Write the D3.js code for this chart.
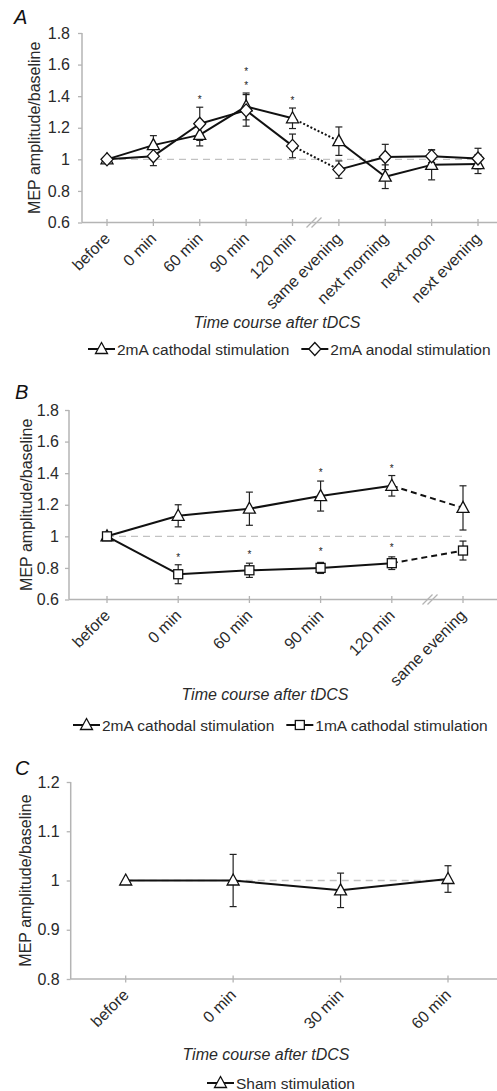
<!DOCTYPE html>
<html>
<head>
<meta charset="utf-8">
<script src="https://cdn.jsdelivr.net/npm/d3@7"></script>
<style>
  body { margin: 0; background: #fff; }
  svg { display: block; font-family: "Liberation Sans", Arial, sans-serif; }
</style>
</head>
<body>
<svg id="chart" width="497" height="1091"></svg>
<script>
// ==============================
// DATA
// ==============================
const catsA = ["before", "0 min", "60 min", "90 min", "120 min", "same evening", "next morning", "next noon", "next evening"];
const cathodalA = [1.0, 1.09, 1.155, 1.335, 1.26, 1.115, 0.89, 0.965, 0.97];
const cathodalAErr = [0, 0.06, 0.07, 0.085, 0.065, 0.09, 0.075, 0.095, 0.06];
const anodalA = [1.0, 1.02, 1.225, 1.31, 1.085, 0.935, 1.015, 1.02, 1.005];
const anodalAErr = [0, 0.06, 0.105, 0.1, 0.075, 0.055, 0.08, 0.04, 0.065];
const starCatsA = ["60 min", "90 min", "90 min", "120 min"];
const starValsA = [1.38, 1.47, 1.56, 1.375];

const catsB = ["before", "0 min", "60 min", "90 min", "120 min", "same evening"];
const cathodal2B = [1.0, 1.13, 1.175, 1.255, 1.32, 1.18];
const cathodal2BErr = [0, 0.07, 0.105, 0.095, 0.065, 0.14];
const cathodal1B = [1.0, 0.76, 0.785, 0.8, 0.83, 0.91];
const cathodal1BErr = [0, 0.06, 0.045, 0.035, 0.04, 0.06];
const starCatsB = ["90 min", "120 min", "0 min", "60 min", "90 min", "120 min"];
const starValsB = [1.405, 1.43, 0.87, 0.89, 0.91, 0.935];

const catsC = ["before", "0 min", "30 min", "60 min"];
const shamC = [1.0, 1.0, 0.98, 1.003];
const shamCErr = [0, 0.053, 0.035, 0.027];

const ticksAB = [0.6, 0.8, 1, 1.2, 1.4, 1.6, 1.8];
const ticksC = [0.8, 0.9, 1, 1.1, 1.2];

const svg = d3.select("#chart");
const TEXT = "#2a2a2a";
const AXIS = "#b4b4b4";

// ==============================
// MARKERS
// ==============================
function drawMarker(g, shape, x, y) {
    if (shape === "triangle") {
        g.append("path")
            .attr("d", `M${x},${y - 6.5}L${x + 6},${y + 4.5}L${x - 6},${y + 4.5}Z`)
            .attr("fill", "#fff").attr("stroke", "#111").attr("stroke-width", 1.3);
    } else if (shape === "diamond") {
        g.append("path")
            .attr("d", `M${x},${y - 6.5}L${x + 6},${y}L${x},${y + 6.5}L${x - 6},${y}Z`)
            .attr("fill", "#fff").attr("stroke", "#111").attr("stroke-width", 1.3);
    } else {
        g.append("rect")
            .attr("x", x - 4.5).attr("y", y - 4.5).attr("width", 9).attr("height", 9)
            .attr("fill", "#fff").attr("stroke", "#111").attr("stroke-width", 1.3);
    }
}

// ==============================
// PANEL
// ==============================
function drawPanel(p) {
    const g = svg.append("g");
    const x = d3.scalePoint().domain(p.cats).range(p.xRange);
    const y = d3.scaleLinear().domain(p.yDomain).range(p.yRange);
    const axisY = p.yRange[0];

    // panel letter
    g.append("text").attr("x", p.letterPos[0]).attr("y", p.letterPos[1])
        .attr("font-size", 20).attr("font-style", "italic").attr("fill", "#111")
        .text(p.letter);

    // y axis
    const yAxis = g.append("g")
        .attr("transform", `translate(${p.axisX},0)`)
        .call(d3.axisLeft(y).tickValues(p.yTicks).tickSize(4).tickPadding(p.yPad)
            .tickFormat(d => d3.format("")(Math.round(d * 10) / 10)));
    yAxis.select(".domain").attr("stroke", AXIS).attr("stroke-width", 1.5).attr("d", `M0,${p.yRange[0]}V${p.yRange[1]}`);
    yAxis.selectAll(".tick line").attr("stroke", AXIS).attr("stroke-width", 1.3);
    yAxis.selectAll(".tick text").attr("fill", TEXT).attr("font-size", 16).attr("font-family", "Liberation Sans, Arial, sans-serif");

    // x axis
    g.append("line").attr("x1", p.axisX).attr("x2", 497).attr("y1", axisY).attr("y2", axisY)
        .attr("stroke", AXIS).attr("stroke-width", 1.5);
    g.selectAll(".xtick").data(p.cats).enter().append("line")
        .attr("x1", d => x(d)).attr("x2", d => x(d))
        .attr("y1", axisY - 3.5).attr("y2", axisY + 3.5)
        .attr("stroke", AXIS).attr("stroke-width", 1.3);
    g.selectAll(".xlab").data(p.cats).enter().append("text")
        .attr("transform", d => `translate(${x(d) + 4},${axisY + 17}) rotate(-45)`)
        .attr("text-anchor", "end").attr("font-size", 16).attr("fill", TEXT)
        .text(d => d);

    // axis break
    if (p.breakX) {
        [-2.5, 2.5].forEach(o => {
            g.append("line")
                .attr("x1", p.breakX + o - 5).attr("y1", axisY + 5)
                .attr("x2", p.breakX + o + 5).attr("y2", axisY - 5)
                .attr("stroke", AXIS).attr("stroke-width", 1.3);
        });
    }

    // y label
    const yMid = (p.yRange[0] + p.yRange[1]) / 2;
    g.append("text")
        .attr("transform", `translate(${p.yLabelX},${yMid}) rotate(-90)`)
        .attr("text-anchor", "middle").attr("dominant-baseline", "central")
        .attr("font-size", 16).attr("fill", TEXT)
        .text("MEP amplitude/baseline");

    // x label
    g.append("text").attr("x", p.xLabelPos[0]).attr("y", p.xLabelPos[1])
        .attr("text-anchor", "middle").attr("font-size", 16).attr("font-style", "italic").attr("fill", TEXT)
        .text("Time course after tDCS");

    // baseline reference
    g.append("line")
        .attr("x1", x(p.cats[0])).attr("x2", x(p.cats[p.cats.length - 1]))
        .attr("y1", y(1)).attr("y2", y(1))
        .attr("stroke", "#c2c2c2").attr("stroke-width", 1.3).attr("stroke-dasharray", "7,5");

    // series
    p.series.forEach(s => {
        const pts = p.cats.map((c, i) => ({ x: x(c), y: y(s.values[i]), v: s.values[i], e: s.err[i] }));
        // line segments
        for (let i = 0; i < pts.length - 1; i++) {
            const style = s.segStyle ? s.segStyle[i] : "solid";
            g.append("line")
                .attr("x1", pts[i].x).attr("y1", pts[i].y).attr("x2", pts[i + 1].x).attr("y2", pts[i + 1].y)
                .attr("stroke", "#111").attr("stroke-width", 2)
                .attr("stroke-dasharray", style === "dotted" ? "2,2" : style === "dashed" ? "6,4" : null);
        }
        // error bars
        pts.forEach(d => {
            if (!d.e) return;
            const top = y(d.v + d.e), bot = y(d.v - d.e);
            g.append("line").attr("x1", d.x).attr("x2", d.x).attr("y1", top).attr("y2", bot)
                .attr("stroke", "#222").attr("stroke-width", 1.2);
            [top, bot].forEach(yy => g.append("line")
                .attr("x1", d.x - 3.5).attr("x2", d.x + 3.5).attr("y1", yy).attr("y2", yy)
                .attr("stroke", "#222").attr("stroke-width", 1.2));
        });
    });
    // markers on top
    p.series.forEach(s => {
        p.cats.forEach((c, i) => drawMarker(g, s.shape, x(c), y(s.values[i])));
    });

    // significance stars
    if (p.starCats) {
        g.selectAll(".star").data(p.starCats).enter().append("text")
            .attr("x", d => x(d)).attr("y", (d, i) => y(p.starVals[i]) + 4)
            .attr("text-anchor", "middle").attr("font-size", 10).attr("fill", "#222")
            .text("*");
    }

    // legend
    let lx = p.legendX;
    p.series.forEach(s => {
        g.append("line").attr("x1", lx).attr("x2", lx + 27).attr("y1", p.legendY).attr("y2", p.legendY)
            .attr("stroke", "#111").attr("stroke-width", 2);
        drawMarker(g, s.shape, lx + 13.5, p.legendY);
        const t = g.append("text").attr("x", lx + 29).attr("y", p.legendY + 5.5)
            .attr("font-size", 15.5).attr("fill", TEXT).text(s.name);
        lx += 29 + t.node().getComputedTextLength() + 12;
    });
}

// ==============================
// BUILD PANELS
// ==============================
drawPanel({
    letter: "A", letterPos: [14, 24],
    cats: catsA, xRange: [107, 478], yDomain: [0.6, 1.8], yRange: [222.5, 33],
    yTicks: ticksAB, axisX: 82, yPad: 8, yLabelX: 34, breakX: 314,
    xLabelPos: [277, 328], legendX: 88, legendY: 349,
    series: [
        { name: "2mA cathodal stimulation", shape: "triangle", values: cathodalA, err: cathodalAErr,
          segStyle: ["solid", "solid", "solid", "solid", "dotted", "solid", "solid", "solid"] },
        { name: "2mA anodal stimulation", shape: "diamond", values: anodalA, err: anodalAErr,
          segStyle: ["solid", "solid", "solid", "solid", "dotted", "solid", "solid", "solid"] }
    ],
    starCats: starCatsA, starVals: starValsA
});

drawPanel({
    letter: "B", letterPos: [15, 399],
    cats: catsB, xRange: [107, 463], yDomain: [0.6, 1.8], yRange: [599.5, 410],
    yTicks: ticksAB, axisX: 69, yPad: 6, yLabelX: 26, breakX: 430,
    xLabelPos: [265, 700], legendX: 73, legendY: 725,
    series: [
        { name: "2mA cathodal stimulation", shape: "triangle", values: cathodal2B, err: cathodal2BErr,
          segStyle: ["solid", "solid", "solid", "solid", "dashed"] },
        { name: "1mA cathodal stimulation", shape: "square", values: cathodal1B, err: cathodal1BErr,
          segStyle: ["solid", "solid", "solid", "solid", "dashed"] }
    ],
    starCats: starCatsB, starVals: starValsB
});

drawPanel({
    letter: "C", letterPos: [15, 775],
    cats: catsC, xRange: [125.7, 448], yDomain: [0.8, 1.2], yRange: [979, 782],
    yTicks: ticksC, axisX: 70.7, yPad: 7, yLabelX: 25, breakX: null,
    xLabelPos: [266, 1060], legendX: 207, legendY: 1083,
    series: [
        { name: "Sham stimulation", shape: "triangle", values: shamC, err: shamCErr }
    ]
});
</script>
</body>
</html>
